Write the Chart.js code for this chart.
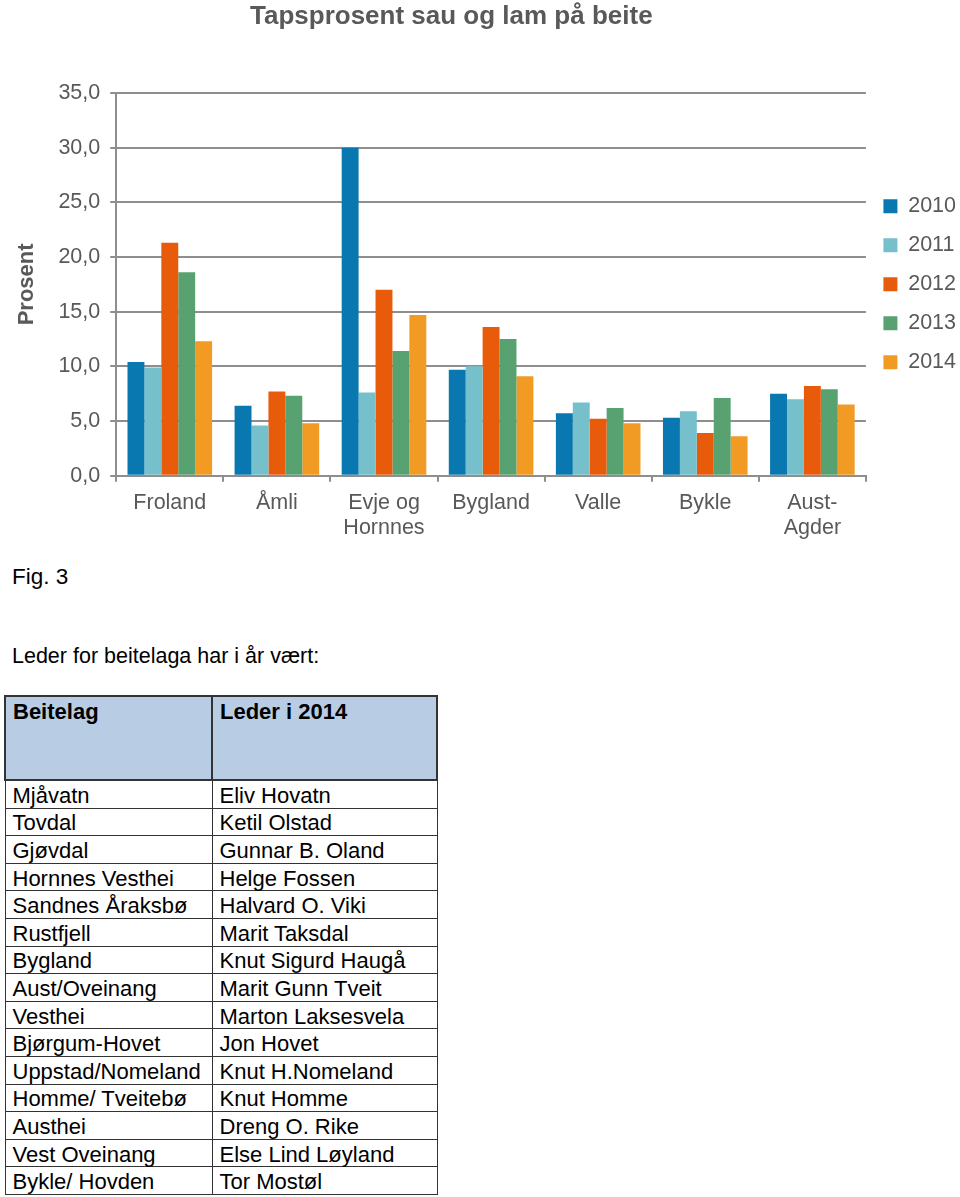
<!DOCTYPE html>
<html>
<head>
<meta charset="utf-8">
<script src="https://cdn.jsdelivr.net/npm/chart.js@4/dist/chart.umd.min.js"></script>
<style>
  body { margin: 0; background: #fff; font-family: "Liberation Sans", Arial, sans-serif; }
  #wrap { position: absolute; left: 0; top: 0; width: 960px; height: 545px; }
  #title { position: absolute; left: 250px; width: 400px; top: 0px; text-align: center; font-size: 26px; font-weight: bold; color: #595959; white-space: nowrap; }
  .txt { position: absolute; left: 12px; color: #000; }
  table { position: absolute; left: 4px; top: 695px; width: 434px; border-collapse: collapse; font-size: 22px; }
  td, th { border: 1px solid #333; padding: 0 0 0 7px; text-align: left; vertical-align: middle; white-space: nowrap; }
  th { background: #b8cce4; font-weight: bold; height: 80px; vertical-align: top; padding-top: 2px; border: 2px solid #333; }
  td { height: 23.6px; padding-top: 3px; line-height: 22px; }
</style>
</head>
<body>
<div id="wrap"><canvas id="chart"></canvas></div>
<div id="title">Tapsprosent sau og lam på beite</div>
<div class="txt" style="top:564px; font-size:22.5px">Fig. 3</div>
<div class="txt" style="top:644px; font-size:21.5px">Leder for beitelaga har i år vært:</div>
<table id="tbl"></table>
<script>
// CHART DATA
// ==========
const categories = ['Froland', 'Åmli', ['Evje og', 'Hornnes'], 'Bygland', 'Valle', 'Bykle', ['Aust-', 'Agder']];
const years = ['2010', '2011', '2012', '2013', '2014'];
const loss2010 = [10.4, 6.4, 30.0, 9.7, 5.7, 5.3, 7.5];
const loss2011 = [9.9, 4.6, 7.6, 10.0, 6.7, 5.9, 7.0];
const loss2012 = [21.3, 7.7, 17.0, 13.6, 5.2, 3.9, 8.2];
const loss2013 = [18.6, 7.3, 11.4, 12.5, 6.2, 7.1, 7.9];
const loss2014 = [12.3, 4.8, 14.7, 9.1, 4.8, 3.6, 6.5];
const yTicks = [0, 5, 10, 15, 20, 25, 30, 35];

// TABLE DATA
// ==========
const beitelag = ['Mjåvatn', 'Tovdal', 'Gjøvdal', 'Hornnes Vesthei', 'Sandnes Åraksbø', 'Rustfjell', 'Bygland',
  'Aust/Oveinang', 'Vesthei', 'Bjørgum-Hovet', 'Uppstad/Nomeland', 'Homme/ Tveitebø', 'Austhei', 'Vest Oveinang', 'Bykle/ Hovden'];
const ledere = ['Eliv Hovatn', 'Ketil Olstad', 'Gunnar B. Oland', 'Helge Fossen', 'Halvard O. Viki', 'Marit Taksdal',
  'Knut Sigurd Haugå', 'Marit Gunn Tveit', 'Marton Laksesvela', 'Jon Hovet', 'Knut H.Nomeland', 'Knut Homme',
  'Dreng O. Rike', 'Else Lind Løyland', 'Tor Mostøl'];

const colors = ['#0a78b0', '#76c0cc', '#e85b0a', '#57a270', '#f19b25'];
const series = [loss2010, loss2011, loss2012, loss2013, loss2014];
const grey = '#595959';
const lineGrey = '#8e8e8e';
const font = '"Liberation Sans", Arial, sans-serif';

// build the table
const tbl = document.getElementById('tbl');
let html = '<tr><th style="width:198px">Beitelag</th><th>Leder i 2014</th></tr>';
beitelag.forEach((b, i) => {
    html += `<tr><td>${b}</td><td>${ledere[i]}</td></tr>`;
});
tbl.innerHTML = html;

const ctx = document.getElementById('chart').getContext('2d');
new Chart(ctx, {
    type: 'bar',
    data: {
        labels: categories,
        datasets: years.map((y, i) => ({
            label: y,
            data: series[i],
            backgroundColor: colors[i],
            borderWidth: 0,
            barPercentage: 1.0,
            categoryPercentage: 0.79,
        })),
    },
    options: {
        responsive: true,
        maintainAspectRatio: false,
        animation: false,
        layout: { padding: { left: 14, right: -6, top: 93, bottom: -5 } },
        plugins: {
            title: { display: false },
            legend: {
                position: 'right',
                fullSize: false,
                labels: {
                    boxWidth: 14,
                    boxHeight: 14,
                    padding: 17.5,
                    color: grey,
                    font: { family: font, size: 21.5 },
                },
            },
            tooltip: { enabled: false },
        },
        scales: {
            x: {
                grid: { offset: true, drawOnChartArea: false, tickLength: 6, color: lineGrey, lineWidth: 2 },
                border: { color: lineGrey, width: 2 },
                ticks: { color: grey, font: { family: font, size: 21.5, lineHeight: 1.17 }, padding: 9, maxRotation: 0 },
            },
            y: {
                min: 0,
                max: 35,
                afterBuildTicks: (axis) => { axis.ticks = yTicks.map(v => ({ value: v })); },
                grid: { color: lineGrey, lineWidth: 2, tickLength: 6 },
                border: { color: lineGrey, width: 2 },
                ticks: {
                    color: grey,
                    padding: 10,
                    font: { family: font, size: 21.5 },
                    callback: (v) => v.toFixed(1).replace('.', ','),
                },
                title: {
                    display: true,
                    text: 'Prosent',
                    color: grey,
                    font: { family: font, size: 22, weight: 'bold' },
                    padding: { top: 0, bottom: 8 },
                },
            },
        },
    },
});
</script>
</body>
</html>
